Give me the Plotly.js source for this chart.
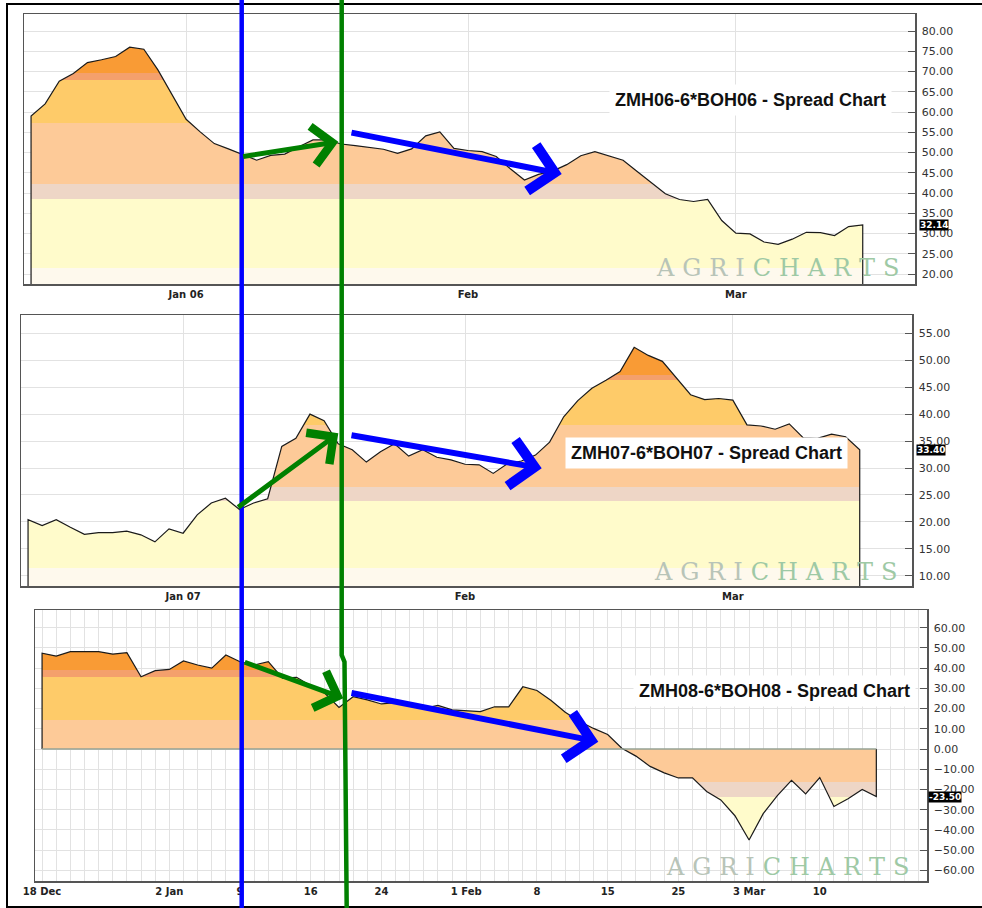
<!DOCTYPE html>
<html>
<head>
<meta charset="utf-8">
<script src="https://cdn.plot.ly/plotly-3.0.1.min.js"></script>
<style>html,body{margin:0;padding:0;background:#fff;}#chart{width:982px;height:908px;}</style>
</head>
<body>
<div id="chart"></div>
<script>
// ZMH-6*BOH spread, one close per trading day (Dec .. Mar 14)
const spread06 = [59.0, 62.0, 67.6, 69.5, 72.2, 72.9, 73.7, 76.0, 75.5, 70.4,
  64.3, 58.2, 55.1, 52.2, 50.9, 49.5, 48.1, 49.3, 49.6, 51.4,
  53.1, 53.1, 52.1, 51.7, 51.3, 50.8, 49.8, 50.9, 54.1, 55.1,
  51.0, 50.5, 50.2, 49.0, 46.0, 43.2, 44.6, 45.4, 47.0, 49.2,
  50.2, 49.2, 48.1, 45.3, 42.6, 39.8, 38.4, 37.9, 38.4, 33.2,
  30.1, 29.9, 27.9, 27.3, 28.6, 30.3, 30.2, 29.5, 31.7, 32.14];
const spread07 = [20.4, 19.3, 20.4, 19.0, 17.7, 18.0, 18.0, 18.3, 17.6, 16.3,
  18.7, 17.9, 21.3, 23.5, 24.4, 22.3, 23.5, 24.3, 34.0, 35.5,
  40.0, 38.8, 34.5, 33.4, 31.1, 33.0, 34.5, 32.2, 33.4, 32.0,
  31.5, 30.7, 30.6, 29.0, 30.8, 31.3, 32.4, 34.8, 39.5, 42.5,
  44.8, 46.3, 47.9, 52.4, 50.9, 49.8, 46.6, 43.6, 42.7, 42.9,
  42.6, 38.0, 37.8, 37.2, 38.2, 35.6, 35.5, 36.3, 35.8, 33.4];
const spread08 = [47.4, 46.0, 48.2, 48.2, 48.2, 47.0, 47.7, 35.8, 38.8, 39.4,
  43.6, 41.6, 40.0, 46.5, 43.2, 41.6, 43.2, 35.1, 35.5, 31.3,
  27.6, 20.6, 25.9, 24.3, 22.3, 22.9, 21.8, 20.1, 21.6, 19.4,
  19.0, 18.5, 20.9, 20.9, 30.8, 29.0, 24.0, 18.2, 13.7, 10.2,
  7.2, 0.4, -3.5, -8.6, -11.8, -14.3, -14.3, -21.0, -25.2, -33.0,
  -45.0, -32.0, -23.0, -15.5, -22.2, -14.1, -28.4, -24.6, -20.0, -23.5];

const firstDay06 = '2005-12-15';
const firstDay07 = '2006-12-14';
const firstDay08 = '2007-12-18';
const holidays06 = ['2005-12-26', '2006-01-02', '2006-01-16', '2006-02-20'];
const holidays07 = ['2006-12-25', '2007-01-01', '2007-01-02', '2007-01-15', '2007-02-19'];
const holidays08 = ['2007-12-25', '2008-01-01', '2008-01-21', '2008-02-18'];

const titles = ['ZMH06-6*BOH06 - Spread Chart', 'ZMH07-6*BOH07 - Spread Chart', 'ZMH08-6*BOH08 - Spread Chart'];

const tickDates06 = ['2006-01-03', '2006-02-01', '2006-03-01'];
const tickText06 = ['Jan 06', 'Feb', 'Mar'];
const tickDates07 = ['2007-01-03', '2007-02-01', '2007-03-01'];
const tickText07 = ['Jan 07', 'Feb', 'Mar'];
const tickDates08 = ['2007-12-18', '2008-01-02', '2008-01-09', '2008-01-16', '2008-01-24', '2008-02-01',
  '2008-02-08', '2008-02-15', '2008-02-25', '2008-03-03', '2008-03-10'];
const tickText08 = ['18 Dec', '2 Jan', '9', '16', '24', '1 Feb', '8', '15', '25', '3 Mar', '10'];

// price bands shading the area, bottom to top
const bandColors = ['#fef9ed', '#fffbcb', '#eed6c6', '#fdca98', '#fecb69', '#f4a06c', '#f99b35'];
const bandEdges06 = [21.6, 38.4, 42.1, 57.4, 67.9, 69.7];
const bandEdges07 = [11.4, 23.8, 26.5, 38.0, 46.3, 47.3];
const bandEdges08 = [-70, -23.6, -16.2, 14.4, 35.5, 39.1];

const W = 982, H = 908;
const px = x => x / W;
const py = y => 1 - y / H;

function tradingDays(start, n, holidays) {
  const out = [];
  const d = new Date(start + 'T00:00:00Z');
  while (out.length < n) {
    const iso = d.toISOString().slice(0, 10);
    const wd = d.getUTCDay();
    if (wd !== 0 && wd !== 6 && !holidays.includes(iso)) out.push(iso);
    d.setUTCDate(d.getUTCDate() + 1);
  }
  return out;
}

function bandScale(edges, lo, hi) {
  const scale = [[0, bandColors[0]]];
  edges.forEach((e, i) => {
    const f = Math.min(1, Math.max(0, (e - lo) / (hi - lo)));
    scale.push([f, bandColors[i]]);
    scale.push([f, bandColors[i + 1]]);
  });
  scale.push([1, bandColors[bandColors.length - 1]]);
  return scale;
}

function spreadTrace(vals, days, edges, yr, n) {
  return {
    x: [days[0]].concat(days, [days[days.length - 1]]),
    y: [0].concat(vals, [0]),
    xaxis: 'x' + n, yaxis: 'y' + n,
    type: 'scatter', mode: 'lines',
    line: {color: '#1a1a1a', width: 1.2},
    fill: 'tozeroy',
    fillgradient: {type: 'vertical', start: yr[0], stop: yr[1], colorscale: bandScale(edges, yr[0], yr[1])},
    hoverinfo: 'skip', showlegend: false
  };
}

const yr1 = [17.53, 84.2], yr2 = [8.1, 58.4], yr3 = [-65.3, 68.8];
const days06 = tradingDays(firstDay06, spread06.length, holidays06);
const days07 = tradingDays(firstDay07, spread07.length, holidays07);
const days08 = tradingDays(firstDay08, spread08.length, holidays08);

const data = [
  spreadTrace(spread06, days06, bandEdges06, yr1, ''),
  spreadTrace(spread07, days07, bandEdges07, yr2, '2'),
  spreadTrace(spread08, days08, bandEdges08, yr3, '3'),
  // base line of the 2008 area along zero
  {x: [days08[0], days08[days08.length - 1]], y: [0, 0], xaxis: 'x3', yaxis: 'y3',
    type: 'scatter', mode: 'lines', line: {color: '#94a294', width: 1.5}, hoverinfo: 'skip', showlegend: false}
];

const gridCol = '#e2e2e2';
function xAxis(dom, anchor, range, holidays, tv, tt) {
  return {
    domain: dom, anchor: anchor, type: 'date', range: range,
    rangebreaks: [{bounds: ['sat', 'mon']}, {values: holidays, dvalue: 86400000}],
    tickmode: 'array', tickvals: tv, ticktext: tt, ticks: '',
    showline: true, mirror: true, linecolor: '#555', linewidth: 1.5,
    showgrid: true, gridcolor: gridCol, zeroline: false,
    tickfont: {family: 'DejaVu Sans', size: 10, color: '#222', weight: 'bold'},
    fixedrange: true
  };
}
function yAxis(dom, anchor, range, dtick) {
  return {
    domain: dom, anchor: anchor, side: 'right', range: range,
    tick0: 0, dtick: dtick, tickformat: '.2f',
    ticks: 'inside', ticklen: 7, tickcolor: '#555', ticklabelstandoff: 3,
    showline: true, mirror: true, linecolor: '#555', linewidth: 1.5,
    showgrid: true, gridcolor: gridCol, zeroline: false,
    tickfont: {family: 'DejaVu Sans', size: 11, color: '#333'},
    fixedrange: true
  };
}

const x3 = xAxis([px(35), px(927)], 'y3', ['2007-12-17 12:00', '2008-03-19 14:00'], holidays08, tickDates08, tickText08);
x3.minor = {dtick: 86400000, tick0: '2007-12-17', showgrid: true, gridcolor: gridCol, ticks: ''};
const y3 = yAxis([py(881), py(610)], 'x3', yr3, 10);

function lastTag(vals, n, x) {
  return {xref: 'paper', yref: 'y' + n, x: px(x), xanchor: 'left', yanchor: 'middle', y: vals[vals.length - 1],
    text: vals[vals.length - 1].toFixed(2), showarrow: false, bgcolor: '#000', borderpad: 0,
    font: {family: 'DejaVu Sans', size: 9, color: '#fff', weight: 'bold'}};
}
function titleNote(text, cx, cy) {
  return {xref: 'paper', yref: 'paper', x: px(cx), y: py(cy), xanchor: 'center', yanchor: 'middle',
    text: text, showarrow: false, bgcolor: '#fff', borderpad: 5,
    font: {family: 'Liberation Sans', size: 18, color: '#111', weight: 'bold'}};
}
const sp = '\u2004';
const mark = '<span style="color:#b8c4b8">' + ['A', 'G', 'R', 'I', ''].join(sp) + '</span>' +
  '<span style="color:#9ec9a5">' + ['C', 'H', 'A', 'R', 'T', 'S'].join(sp) + '</span>';
function watermark(cx, cy) {
  return {xref: 'paper', yref: 'paper', x: px(cx), y: py(cy), xanchor: 'center', yanchor: 'middle',
    text: mark, showarrow: false, font: {family: 'DejaVu Serif', size: 24}};
}
// hand-drawn arrows: tail -> head, in screen pixels
function arrow(x0, y0, x1, y1, color, w) {
  return {xref: 'paper', yref: 'paper', x: px(x1), y: py(y1), ax: x0 - x1, ay: y0 - y1,
    text: '', showarrow: true, arrowhead: 4, arrowsize: 1.5, arrowwidth: w, arrowcolor: color,
    standoff: 0, startstandoff: 0};
}

const layout = {
  width: W, height: H,
  margin: {l: 0, r: 0, t: 0, b: 0},
  paper_bgcolor: '#fff', plot_bgcolor: '#fff',
  showlegend: false,
  font: {family: 'Liberation Sans'},
  xaxis: xAxis([px(24), px(915)], 'y', ['2005-12-14 12:00', '2006-03-17 17:00'], holidays06, tickDates06, tickText06),
  yaxis: yAxis([py(284), py(14)], 'x', yr1, 5),
  xaxis2: xAxis([px(21), px(912)], 'y2', ['2006-12-13 12:00', '2007-03-19 17:00'], holidays07, tickDates07, tickText07),
  yaxis2: yAxis([py(586), py(315)], 'x2', yr2, 5),
  xaxis3: x3,
  yaxis3: y3,
  shapes: [
    {type: 'rect', xref: 'paper', yref: 'paper', x0: px(7), x1: 1.05, y0: py(907), y1: py(4),
      line: {color: '#000', width: 2}},
    {type: 'line', xref: 'paper', yref: 'paper', x0: px(241.7), x1: px(241.7), y0: 0, y1: 1,
      line: {color: '#0000ff', width: 4.5}},
    {type: 'path', xref: 'paper', yref: 'paper',
      path: 'M ' + px(341.7) + ',1 L ' + px(341.7) + ',' + py(655) + ' L ' + px(344.5) + ',' + py(662) + ' L ' + px(346.7) + ',0',
      line: {color: '#008000', width: 4.5}}
  ],
  annotations: [
    watermark(777, 268), watermark(775, 572), watermark(787, 867),
    titleNote(titles[0], 750.5, 100),
    titleNote(titles[1], 706, 452.8),
    titleNote(titles[2], 774.5, 691),
    lastTag(spread06, '', 919),
    lastTag(spread07, '2', 916),
    lastTag(spread08, '3', 928),
    arrow(241.7, 156.7, 338.3, 141.7, '#008000', 5),
    arrow(350, 132.3, 561.7, 174, '#0000ff', 6),
    arrow(236.7, 508.3, 338.3, 433.3, '#008000', 5),
    arrow(350, 435, 541.7, 468.3, '#0000ff', 6),
    arrow(243.3, 661.7, 343.3, 698.3, '#008000', 5),
    arrow(350, 692.7, 598.3, 741.7, '#0000ff', 6)
  ]
};

Plotly.newPlot('chart', data, layout, {staticPlot: true});
</script>
</body>
</html>
